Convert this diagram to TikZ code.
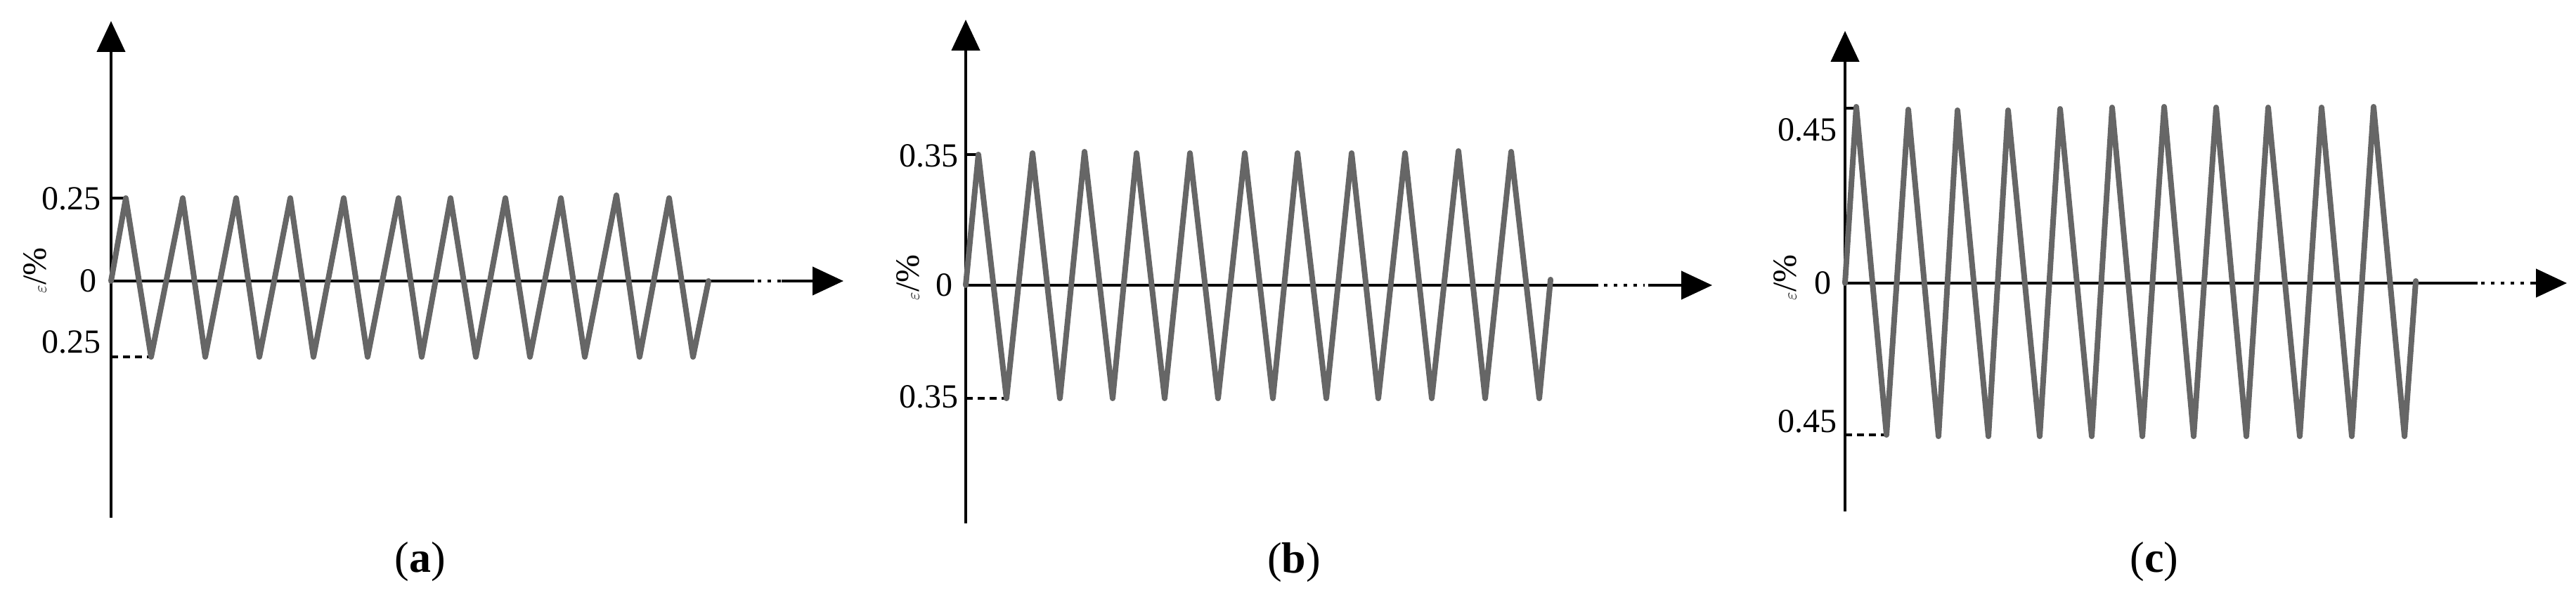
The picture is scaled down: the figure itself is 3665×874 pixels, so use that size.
\documentclass[tikz,border=0pt]{standalone}
\usepackage{fontspec}
\setmainfont{Liberation Serif}
\usetikzlibrary{arrows.meta}
\begin{document}
\begin{tikzpicture}[x=1pt,y=-1pt,
  ax/.style={line width=4.5pt,black},
  tip/.style={-{Triangle[length=44pt,width=40pt]}},
  zz/.style={line width=8pt,color=black!60,line join=round,line cap=round},
  lab/.style={font=\fontsize{48}{50}\selectfont,inner sep=0pt},
  caplab/.style={font=\fontsize{62}{64}\selectfont,inner sep=0pt},
  dsh/.style={line width=3.5pt,dash pattern=on 10pt off 7pt}]
\useasboundingbox (0,0) rectangle (3665,874);
% ---------- panel a
\coordinate (aO) at (158,400);
\draw[ax,tip] (158,737) -- (158,30);
\draw[ax] (aO) -- (1073,400);
\draw[ax,dash pattern=on 5pt off 9pt] (1078,400) -- (1112,400);
\draw[ax,tip] (1112,400) -- (1200,400);
\draw[line width=3.5pt] (aO |- 0,282) -- (179,282);
\draw[dsh] (aO |- 0,508) -- (215,508);
\draw[zz] (158,400) -- (179,282) -- (215,508) -- (260,282) -- (292,508) -- (336,282) -- (369,508) -- (413,282) -- (446,508) -- (489,282) -- (523,508) -- (567,282) -- (600,508) -- (641,282) -- (677,508) -- (719,282) -- (754,508) -- (798,282) -- (832,508) -- (877,278) -- (910,508) -- (952,282) -- (986,508) -- (1008,400);
\node[lab,anchor=east] (a1) at (144,283) {0.25};
\node[lab,anchor=east] (a2) at (144,487) {0.25};
\node[lab,anchor=east] (a0) at (138,400) {0};
\node[lab,rotate=90] (ae) at (50,385) {$\varepsilon$/\%};
\node[caplab] (acap) at (598,800) {(\textbf{a})};
% ---------- panel b
\coordinate (bO) at (1374,406);
\draw[ax,tip] (1374,745) -- (1374,28);
\draw[ax] (bO) -- (2274,406);
\draw[ax,dash pattern=on 5pt off 9pt] (2282,406) -- (2340,406);
\draw[ax,tip] (2345,406) -- (2436,406);
\draw[line width=3.5pt] (bO |- 0,220) -- (1392,220);
\draw[dsh] (bO |- 0,567) -- (1432,567);
\draw[zz] (1374,406) -- (1392,220) -- (1432,567) -- (1469,218) -- (1508,567) -- (1543,216) -- (1583,567) -- (1617,218) -- (1657,567) -- (1693,218) -- (1733,567) -- (1771,218) -- (1811,567) -- (1846,218) -- (1887,567) -- (1923,218) -- (1961,567) -- (1999,218) -- (2037,567) -- (2075,215) -- (2113,567) -- (2150,216) -- (2190,567) -- (2206,398);
\node[lab,anchor=east] (b1) at (1364,222) {0.35};
\node[lab,anchor=east] (b2) at (1364,565) {0.35};
\node[lab,anchor=east] (b0) at (1356,406) {0};
\node[lab,rotate=90] (be) at (1292,395) {$\varepsilon$/\%};
\node[caplab] (bcap) at (1841,801) {(\textbf{b})};
% ---------- panel c
\coordinate (cO) at (2625,403);
\draw[ax,tip] (2625,728) -- (2625,44);
\draw[ax] (cO) -- (3525,403);
\draw[ax,dash pattern=on 5pt off 9pt] (3530,403) -- (3598,403);
\draw[ax,tip] (3600,403) -- (3652,403);
\draw[line width=3.5pt] (cO |- 0,154) -- (2641,154);
\draw[dsh] (cO |- 0,619) -- (2684,619);
\draw[zz] (2625,403) -- (2641,152) -- (2684,619) -- (2715,156) -- (2758,621) -- (2785,157) -- (2829,621) -- (2857,157) -- (2902,621) -- (2931,155) -- (2976,621) -- (3005,153) -- (3048,621) -- (3079,152) -- (3121,621) -- (3153,153) -- (3196,621) -- (3227,153) -- (3272,621) -- (3303,153) -- (3346,621) -- (3377,152) -- (3421,621) -- (3437,400);
\node[lab,anchor=east] (c1) at (2614,185) {0.45};
\node[lab,anchor=east] (c2) at (2614,600) {0.45};
\node[lab,anchor=east] (c0) at (2606,403) {0};
\node[lab,rotate=90] (ce) at (2540,395) {$\varepsilon$/\%};
\node[caplab] (ccap) at (3065,800) {(\textbf{c})};
\end{tikzpicture}
\end{document}
